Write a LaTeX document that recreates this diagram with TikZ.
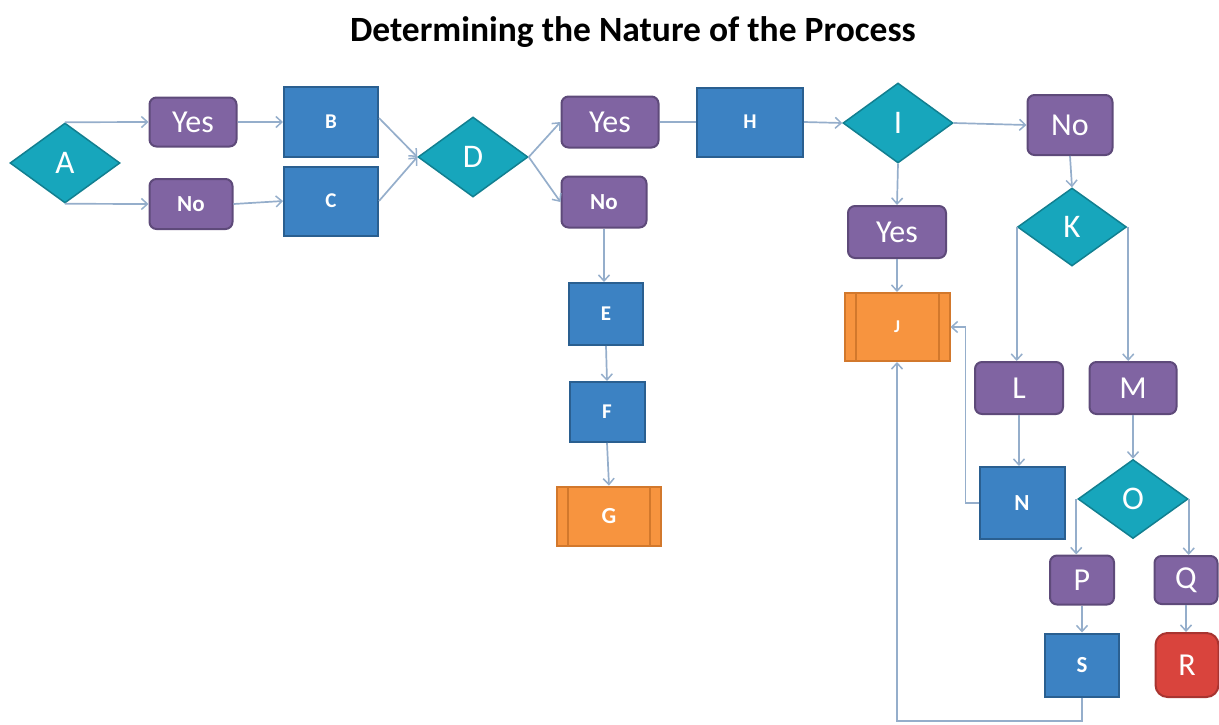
\documentclass[tikz,border=0pt]{standalone}
\usepackage{fontspec}
\setmainfont{Carlito}
\usetikzlibrary{shapes.geometric,arrows.meta,calc}
\definecolor{purpfill}{HTML}{8064A2}
\definecolor{purpline}{HTML}{5E4A7A}
\definecolor{bluefill}{HTML}{3C82C3}
\definecolor{blueline}{HTML}{2A5F90}
\definecolor{tealfill}{HTML}{17A6BC}
\definecolor{tealline}{HTML}{127F90}
\definecolor{orfill}{HTML}{F7943F}
\definecolor{orline}{HTML}{D2782C}
\definecolor{redfill}{HTML}{D9443D}
\definecolor{redline}{HTML}{A83430}
\definecolor{arrcol}{HTML}{95AECB}
\tikzset{
  every node/.style={text=white, inner sep=0pt},
  purp/.style={draw=purpline, fill=purpfill, line width=2pt, rounded corners=7pt, minimum width=#1},
  purp/.default=86pt,
  bluebox/.style={draw=blueline, fill=bluefill, line width=2pt, font=\bfseries\fontsize{21}{23}\selectfont},
  dia/.style={draw=tealline, fill=tealfill, line width=1.5pt, diamond, minimum width=110pt, minimum height=80pt, font=\fontsize{33}{35}\selectfont},
  predef/.style={draw=orline, fill=orfill, line width=2pt,
    path picture={\draw[orline, line width=2pt]
      ([xshift=11pt]path picture bounding box.north west) -- ([xshift=11pt]path picture bounding box.south west)
      ([xshift=-11pt]path picture bounding box.north east) -- ([xshift=-11pt]path picture bounding box.south east);}},
  big/.style={font=\fontsize{32}{34}\selectfont},
  mid/.style={font=\bfseries\fontsize{23}{25}\selectfont},
  arr/.style={draw=arrcol, line width=1.7pt, -{Straight Barb[length=6pt,width=11pt,line width=1.5pt]}},
  ln/.style={draw=arrcol, line width=1.7pt},
}
\begin{document}
\begin{tikzpicture}[x=1pt,y=-1pt]
\useasboundingbox (0,0) rectangle (1219,724);
\node[text=black, font=\bfseries\fontsize{35.5}{38}\selectfont] (title) at (633,32) {Determining the Nature of the Process};
% left part
\node[dia] (A) at (65,163) {A};
\node[purp=87pt, minimum height=49pt, big] (Y1) at (193,122) {Yes};
\node[purp=83pt, minimum height=50pt, mid] (N1) at (191,204) {No};
\node[bluebox, minimum width=94pt, minimum height=70pt] (B) at (331,122) {B};
\node[bluebox, minimum width=94pt, minimum height=69pt] (C) at (331,201) {C};
\node[dia] (D) at (473,157) {D};
\node[purp=97pt, minimum height=51pt, big] (Y2) at (610,122) {Yes};
\node[purp=85pt, minimum height=51pt, mid] (N2) at (604,202) {No};
\node[bluebox, minimum width=74pt, minimum height=62pt] (E) at (606,314) {E};
\node[bluebox, minimum width=75pt, minimum height=60pt] (F) at (607,412) {F};
\node[predef, minimum width=104pt, minimum height=59pt, mid] (G) at (609,516) {G};
% right part
\node[bluebox, minimum width=106pt, minimum height=69pt] (H) at (750,122) {H};
\node[dia] (I) at (898,123) {I};
\node[purp=85pt, minimum height=60pt, big] (N3) at (1070,125) {No};
\node[purp=98pt, minimum height=52pt, big] (Y3) at (897,232) {Yes};
\node[dia, minimum width=109pt, minimum height=78pt] (K) at (1072,227) {K};
\node[predef, minimum width=105pt, minimum height=68pt, font=\bfseries\fontsize{18}{20}\selectfont] (J) at (897,327) {J};
\node[purp=88pt, minimum height=52pt, big] (L) at (1019,388) {L};
\node[purp=87pt, minimum height=52pt, big] (M) at (1133,388) {M};
\node[bluebox, minimum width=85pt, minimum height=72pt, font=\bfseries\fontsize{23}{25}\selectfont] (N) at (1022,503) {N};
\node[dia, minimum width=110pt, minimum height=79pt] (O) at (1133,499) {O};
\node[purp=64pt, minimum height=49pt, big] (P) at (1082,580) {P};
\node[purp=63pt, minimum height=48pt, big] (Q) at (1186,580) {Q};
\node[bluebox, minimum width=74pt, minimum height=63pt, font=\bfseries\fontsize{23}{25}\selectfont] (S) at (1082,665) {S};
\node[draw=redline, fill=redfill, line width=2pt, rounded corners=12pt, minimum width=63pt, minimum height=64pt, big] (R) at (1187,665) {R};
\coordinate (lowturn) at (1082,721);
% connectors
\draw[arr] (A.north) -- (Y1.west);
\draw[arr] (A.south) -- (N1.west);
\draw[arr] (Y1.east) -- (B.west);
\draw[arr] (N1.east) -- (C.west);
\draw[arr] ([yshift=4pt]B.east) -- (D.west);
\draw[arr] (C.east) -- (D.west);
\draw[arr] (D.east) -- (Y2.west);
\draw[arr] (D.east) -- (N2.west);
\draw[arr] (N2.south) -- (N2.south |- E.north);
\draw[arr] (E.south) -- (F.north);
\draw[arr] (F.south) -- (G.north);
\draw[ln] (Y2.east) -- (H.west);
\draw[arr] (H.east) -- (I.west);
\draw[arr] (I.east) -- (N3.west);
\draw[arr] (I.south) -- (Y3.north);
\draw[arr] (Y3.south) -- (J.north);
\draw[arr] (N3.south) -- (K.north);
\draw[arr] (K.west) -- (K.west |- L.north);
\draw[arr] ([xshift=1pt]K.east) -- ([xshift=1pt]K.east |- M.north);
\draw[arr] (L.south) -- (L.south |- N.north);
\draw[arr] (M.south) -- (O.north);
\draw[arr] (N.west) -| ($(J.east)+(15,0)$) -- (J.east);
\draw[arr] ([xshift=-1pt]O.west) -- ([xshift=-1pt]O.west |- P.north);
\draw[arr] (O.east) -- (O.east |- Q.north);
\draw[arr] (P.south) -- (S.north);
\draw[arr] (Q.south) -- (Q.south |- R.north);
\draw[arr] (S.south) -- (lowturn) -| (J.south);
\end{tikzpicture}
\end{document}
